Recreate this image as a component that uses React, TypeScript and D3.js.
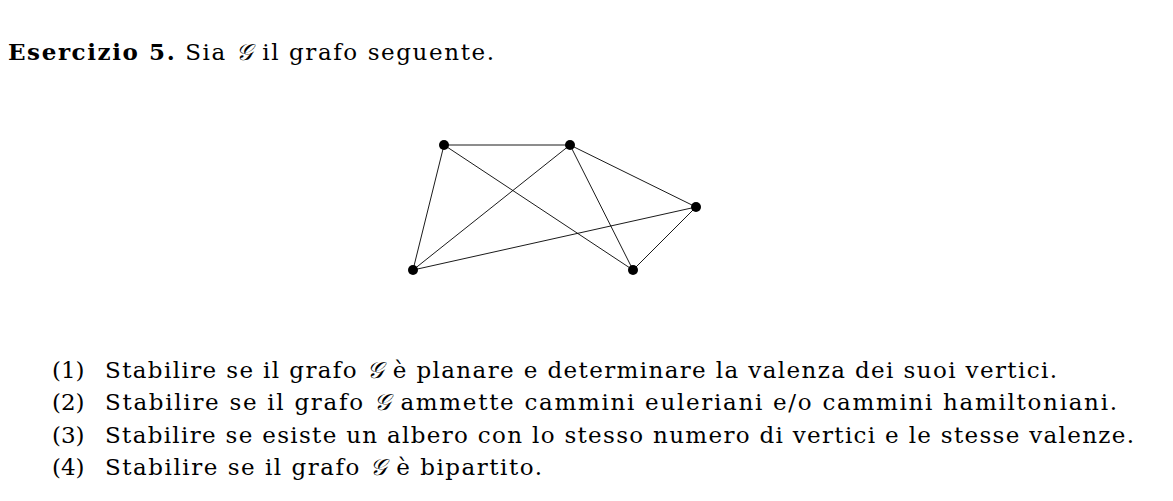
import { useEffect, useRef } from "react";
import * as d3 from "d3";

// graph vertices in picture units
const vertexIds = ["a", "b", "c", "d", "e"];
const vertexX = [31, 157, 283, 0, 220];
const vertexY = [0, 0, 62, 125, 125];
const edges: [string, string][] = [
  ["a", "b"], ["a", "d"], ["a", "e"], ["b", "d"],
  ["b", "e"], ["b", "c"], ["c", "d"], ["c", "e"],
];

const questions = [
  ["(1)", "Stabilire se il grafo ", "𝒢", " è planare e determinare la valenza dei suoi vertici."],
  ["(2)", "Stabilire se il grafo ", "𝒢", " ammette cammini euleriani e/o cammini hamiltoniani."],
  ["(3)", "Stabilire se esiste un albero con lo stesso numero di vertici e le stesse valenze.", "", ""],
  ["(4)", "Stabilire se il grafo ", "𝒢", " è bipartito."],
];
// right edge of each line in the reference
const lineEnds = [1057, 1117, 1134, 542];

const App = () => {
  const ref = useRef<SVGSVGElement>(null);

  useEffect(() => {
    if (!ref.current) return;
    const svg = d3.select(ref.current);
    svg.selectAll("*").remove();

    const font = "'DejaVu Serif', 'Liberation Serif', serif";

    const title = svg.append("text").attr("x", 8).attr("y", 60)
      .attr("font-family", font).attr("font-size", 23)
      .attr("textLength", 486).attr("lengthAdjust", "spacing");
    title.append("tspan").attr("font-weight", "bold").text("Esercizio 5.");
    title.append("tspan").text(" Sia ");
    title.append("tspan").attr("font-style", "italic").text("𝒢 ");
    title.append("tspan").text(" il grafo seguente.");

    const x = d3.scaleLinear().domain([0, 283]).range([413, 696]);
    const y = d3.scaleLinear().domain([0, 125]).range([145, 270]);
    const pos = new Map(vertexIds.map((id, i) => [id, [x(vertexX[i]), y(vertexY[i])]]));

    svg.append("g").selectAll("line").data(edges).join("line")
      .attr("x1", (d) => pos.get(d[0])![0]).attr("y1", (d) => pos.get(d[0])![1])
      .attr("x2", (d) => pos.get(d[1])![0]).attr("y2", (d) => pos.get(d[1])![1])
      .attr("stroke", "#000").attr("stroke-width", 0.9);

    svg.append("g").selectAll("circle").data(vertexIds).join("circle")
      .attr("cx", (d) => pos.get(d)![0]).attr("cy", (d) => pos.get(d)![1])
      .attr("r", 5).attr("fill", "#000");

    const rows = svg.append("g").attr("font-family", font).attr("font-size", 23);
    questions.forEach((q, i) => {
      const yy = 378 + i * 32.3;
      rows.append("text").attr("x", 52).attr("y", yy).text(q[0]);
      const t = rows.append("text").attr("x", 105).attr("y", yy)
        .attr("textLength", lineEnds[i] - 105).attr("lengthAdjust", "spacing");
      t.append("tspan").text(q[1]);
      if (q[2]) t.append("tspan").attr("font-style", "italic").text(q[2] + " ");
      if (q[3]) t.append("tspan").text(q[3]);
    });
  }, []);

  return (
    <svg ref={ref} width={1173} height={501}
      style={{ display: "block", position: "absolute", left: 0, top: 0, background: "#fff" }} />
  );
};

export default App;
